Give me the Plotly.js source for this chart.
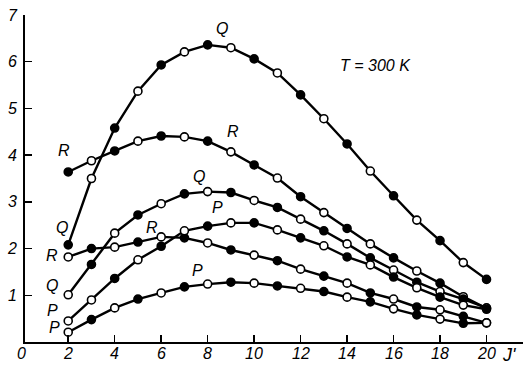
<!DOCTYPE html>
<html>
<head>
<meta charset="utf-8">
<script src="https://cdn.plot.ly/plotly-3.0.1.min.js"></script>
<style>
  html, body { margin: 0; padding: 0; background: #fff; }
  #chart { width: 529px; height: 366px; }
</style>
</head>
<body>
<div id="chart"></div>
<script>
// Rotational quantum number J'
const J = [2, 3, 4, 5, 6, 7, 8, 9, 10, 11, 12, 13, 14, 15, 16, 17, 18, 19, 20];

// Line intensities (arb. units)
const Q1 = [2.08, 3.50, 4.58, 5.37, 5.93, 6.21, 6.36, 6.30, 6.06, 5.76, 5.29, 4.78, 4.24, 3.66, 3.13, 2.61, 2.17, 1.70, 1.34];
const R1 = [3.64, 3.88, 4.09, 4.30, 4.41, 4.39, 4.30, 4.07, 3.79, 3.51, 3.11, 2.77, 2.43, 2.10, 1.80, 1.52, 1.26, 0.97, 0.72];
const Q2 = [1.01, 1.66, 2.33, 2.72, 2.96, 3.17, 3.22, 3.20, 3.03, 2.88, 2.63, 2.38, 2.10, 1.80, 1.54, 1.28, 1.08, 0.92, 0.73];
const R2 = [1.82, 2.00, 2.03, 2.14, 2.25, 2.23, 2.12, 1.97, 1.86, 1.74, 1.56, 1.41, 1.26, 1.05, 0.92, 0.75, 0.69, 0.55, 0.41];
const P1 = [0.45, 0.90, 1.36, 1.76, 2.05, 2.38, 2.48, 2.55, 2.55, 2.40, 2.23, 2.06, 1.82, 1.65, 1.39, 1.16, 0.96, 0.79, 0.70];
const P2 = [0.21, 0.48, 0.73, 0.92, 1.05, 1.18, 1.24, 1.28, 1.26, 1.20, 1.15, 1.08, 0.96, 0.86, 0.71, 0.58, 0.49, 0.40, 0.41];

const xTicks = [2, 4, 6, 8, 10, 12, 14, 16, 18, 20];
const yTicks = [1, 2, 3, 4, 5, 6, 7];

// Branch labels: [text, J, intensity]
const branchLabels = [
  ["Q", 8.61, 6.72], ["R", 9.09, 4.50], ["Q", 7.63, 3.55], ["R", 5.60, 2.46],
  ["P", 8.44, 2.87], ["P", 7.58, 1.54],
  ["R", 1.82, 4.09], ["Q", 1.73, 2.46], ["R", 1.30, 1.86], ["Q", 1.30, 1.20],
  ["P", 1.34, 0.68], ["P", 1.39, 0.31]
];
const tempLabel = "T = 300 K";
const xLabel = "J'";
const originLabel = "0";

// style: which J values carry a filled marker
function fills(firstFilled, openAlso) {
  return J.map((j, i) => {
    let f = (i % 2 === 0) ? firstFilled : !firstFilled;
    if (openAlso && openAlso.includes(j)) f = false;
    return f ? "black" : "white";
  });
}

const series = [
  { y: Q1, c: fills(true) },
  { y: R1, c: fills(true) },
  { y: Q2, c: fills(false) },
  { y: R2, c: fills(false) },
  { y: P1, c: fills(true, [2]) },
  { y: P2, c: fills(false) }
];

const font = { family: "Liberation Sans, Arial, sans-serif", color: "black", style: "italic" };
const f = s => Object.assign({}, font, { size: s });

const traces = series.map(s => ({
  type: "scatter",
  mode: "lines+markers",
  x: J,
  y: s.y,
  line: { color: "black", width: 2.4 },
  marker: { size: 8, symbol: "circle", color: s.c, line: { color: "black", width: 1.6 } },
  cliponaxis: false,
  hoverinfo: "x+y"
}));

const annotations = branchLabels.map(([t, x, y]) => ({
  text: t, x: x, y: y, xref: "x", yref: "y", showarrow: false, font: f(16)
}));
annotations.push({
  text: tempLabel, x: 15.24, y: 5.91, xref: "x", yref: "y", showarrow: false, font: f(16)
});
// x tick labels drawn just under the axis line (paper y below the plot)
const labelY = -0.034;
xTicks.forEach(v => annotations.push({
  text: String(v), x: v, y: labelY, xref: "x", yref: "paper",
  yanchor: "middle", showarrow: false, font: f(16)
}));
annotations.push({
  text: xLabel, x: 0.99, y: labelY - 0.005, xref: "paper", yref: "paper",
  yanchor: "middle", showarrow: false, font: f(18)
});
annotations.push({
  text: originLabel, x: -0.021, y: labelY, xref: "paper", yref: "paper",
  yanchor: "middle", showarrow: false, font: f(16)
});

const layout = {
  width: 529, height: 366,
  margin: { l: 25, r: 6, t: 15, b: 24, pad: 0 },
  paper_bgcolor: "white", plot_bgcolor: "white",
  showlegend: false,
  xaxis: {
    range: [0.14, 21.57], showgrid: false, zeroline: false,
    showline: true, linecolor: "black", linewidth: 2,
    ticks: "inside", ticklen: 7, tickwidth: 1.5, tickcolor: "black",
    tickvals: xTicks, showticklabels: false
  },
  yaxis: {
    range: [0, 7], showgrid: false, zeroline: false,
    showline: true, linecolor: "black", linewidth: 2,
    ticks: "inside", ticklen: 7, tickwidth: 1.5, tickcolor: "black",
    tickvals: yTicks, ticktext: yTicks.map(String),
    tickfont: f(16), ticklabelstandoff: 3
  },
  annotations: annotations
};

Plotly.newPlot("chart", traces, layout, { displayModeBar: false, staticPlot: true });
</script>
</body>
</html>
